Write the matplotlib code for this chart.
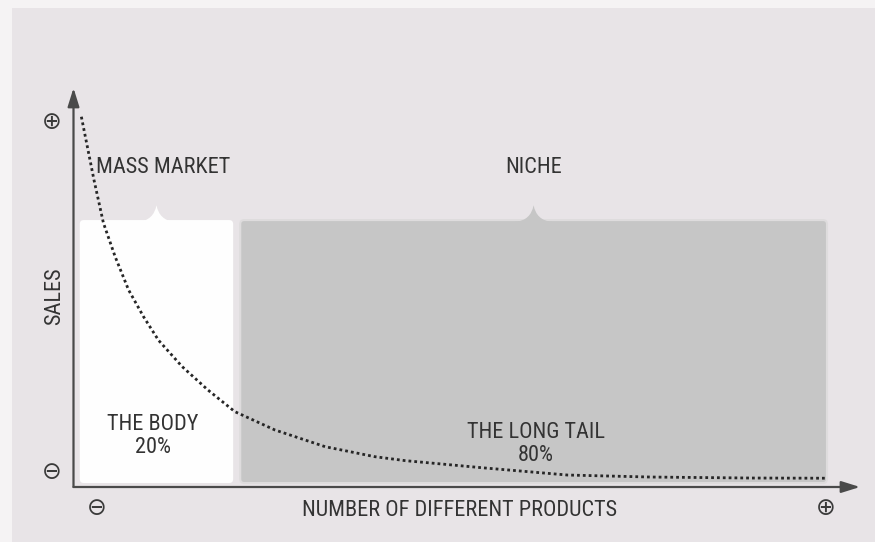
import matplotlib
matplotlib.use("Agg")
import matplotlib.pyplot as plt
from matplotlib import font_manager
from matplotlib.patches import FancyBboxPatch, PathPatch
from matplotlib.path import Path

available = {f.name for f in font_manager.fontManager.ttflist}
preferred = ["Roboto Condensed", "Liberation Sans Narrow", "DejaVu Sans Condensed",
             "Open Sans Condensed", "Roboto", "DejaVu Sans"]
fam = [f for f in preferred if f in available] + ["DejaVu Sans"]
plt.rcParams['font.family'] = fam

# ---- data ----
segment_names = ["MASS MARKET", "NICHE"]
segment_labels = ["THE BODY", "THE LONG TAIL"]
segment_shares = ["20%", "80%"]
segment_start = [0.8, 21.2]
segment_end = [20.3, 95.8]
segment_top = 66.9
segment_colors = ["#fefefe", "#c6c6c6"]

curve_x = [1.0, 2.6, 3.8, 5.3, 7.0, 8.9, 10.8, 13.8, 17.1, 20.5, 25.6, 32.0,
           38.3, 42.2, 52.1, 62.8, 73.3, 86.0, 95.8]
curve_y = [92.8, 77.0, 66.2, 57.7, 49.4, 42.7, 36.8, 30.2, 24.3, 18.9, 14.3, 10.1,
           7.6, 6.6, 4.8, 3.0, 2.5, 2.25, 2.2]

x_label = "NUMBER OF DIFFERENT PRODUCTS"
y_label = "SALES"

# ---- figure ----
W, H = 875, 542
fig = plt.figure(figsize=(W / 100, H / 100), dpi=100)
fig.patch.set_facecolor("#f5f3f4")
bgax = fig.add_axes([12 / W, 0, 1 - 12 / W, 1 - 8 / H])
bgax.set_facecolor("#e8e4e7")
bgax.set_xticks([])
bgax.set_yticks([])
for sp in bgax.spines.values():
    sp.set_visible(False)

ax = fig.add_axes([73.5 / W, 55 / H, (860 - 73.5) / W, (487 - 88) / H])
ax.set_xlim(0, 100)
ax.set_ylim(0, 100)
ax.axis("off")
ax.patch.set_alpha(0)

txt_color = "#333333"
fs = 16

# segment boxes
bump_hw = 2.3
bump_h = 3.7
for s, e, c in zip(segment_start, segment_end, segment_colors):
    box = FancyBboxPatch((s, 1.0), e - s, segment_top - 1.0,
                         boxstyle="round,pad=0,rounding_size=0.5",
                         mutation_aspect=2.0, facecolor=c,
                         edgecolor="#dedcdd" if c != "#fefefe" else "none",
                         lw=1.5, zorder=1)
    ax.add_patch(box)
    cx = (s + e) / 2
    verts = [(cx - bump_hw, segment_top - 0.5),
             (cx - bump_hw * 0.15, segment_top), (cx, segment_top + bump_h),
             (cx + bump_hw * 0.15, segment_top), (cx + bump_hw, segment_top - 0.5),
             (cx - bump_hw, segment_top - 0.5)]
    codes = [Path.MOVETO, Path.CURVE3, Path.CURVE3, Path.CURVE3, Path.CURVE3,
             Path.CLOSEPOLY]
    ax.add_patch(PathPatch(Path(verts, codes), facecolor=c, edgecolor="none",
                           zorder=1.5))

# long-tail curve
ax.plot(curve_x, curve_y, color="#262626", lw=2.0, linestyle=(0, (1, 1.1)),
        zorder=3, solid_capstyle="butt")

# axes arrows
arrow_kw = dict(arrowstyle="-|>,head_length=0.8,head_width=0.25", color="#4a4a4a",
                lw=1.6, mutation_scale=14, shrinkA=0, shrinkB=0)
ax.annotate("", xy=(100, 0), xytext=(0, 0), arrowprops=arrow_kw, zorder=4,
            annotation_clip=False)
ax.annotate("", xy=(0, 100), xytext=(0, 0), arrowprops=arrow_kw, zorder=4,
            annotation_clip=False)

# labels
for s, e, name in zip(segment_start, segment_end, segment_names):
    cx = (s + e) / 2
    ax.text(cx + (0.8 if s < 1 else 0), 80.2, name, ha="center", va="center",
            fontsize=fs, color=txt_color, clip_on=False)
for cx, cy, lab, share in [(10.1, 12.8, segment_labels[0], segment_shares[0]),
                           (58.8, 10.8, segment_labels[1], segment_shares[1])]:
    ax.text(cx, cy, lab + "\n" + share, ha="center", va="center",
            fontsize=fs, color=txt_color, linespacing=1.1, multialignment="center")

ax.text(49.1, -5.9, x_label, ha="center", va="center", fontsize=fs,
        color=txt_color, clip_on=False)
ax.text(-2.35, 47.9, y_label, ha="center", va="center", fontsize=fs,
        color=txt_color, rotation=90, clip_on=False)

sym_kw = dict(ha="center", va="center", fontsize=17, color="#3a3a3a",
              family="DejaVu Sans", clip_on=False)
ax.text(-2.73, 91.5, "\u2295", **sym_kw)
ax.text(-2.73, 3.76, "\u2296", **sym_kw)
ax.text(2.99, -5.3, "\u2296", **sym_kw)
ax.text(95.7, -5.3, "\u2295", **sym_kw)

fig.savefig("out.png", dpi=100, facecolor=fig.get_facecolor())
